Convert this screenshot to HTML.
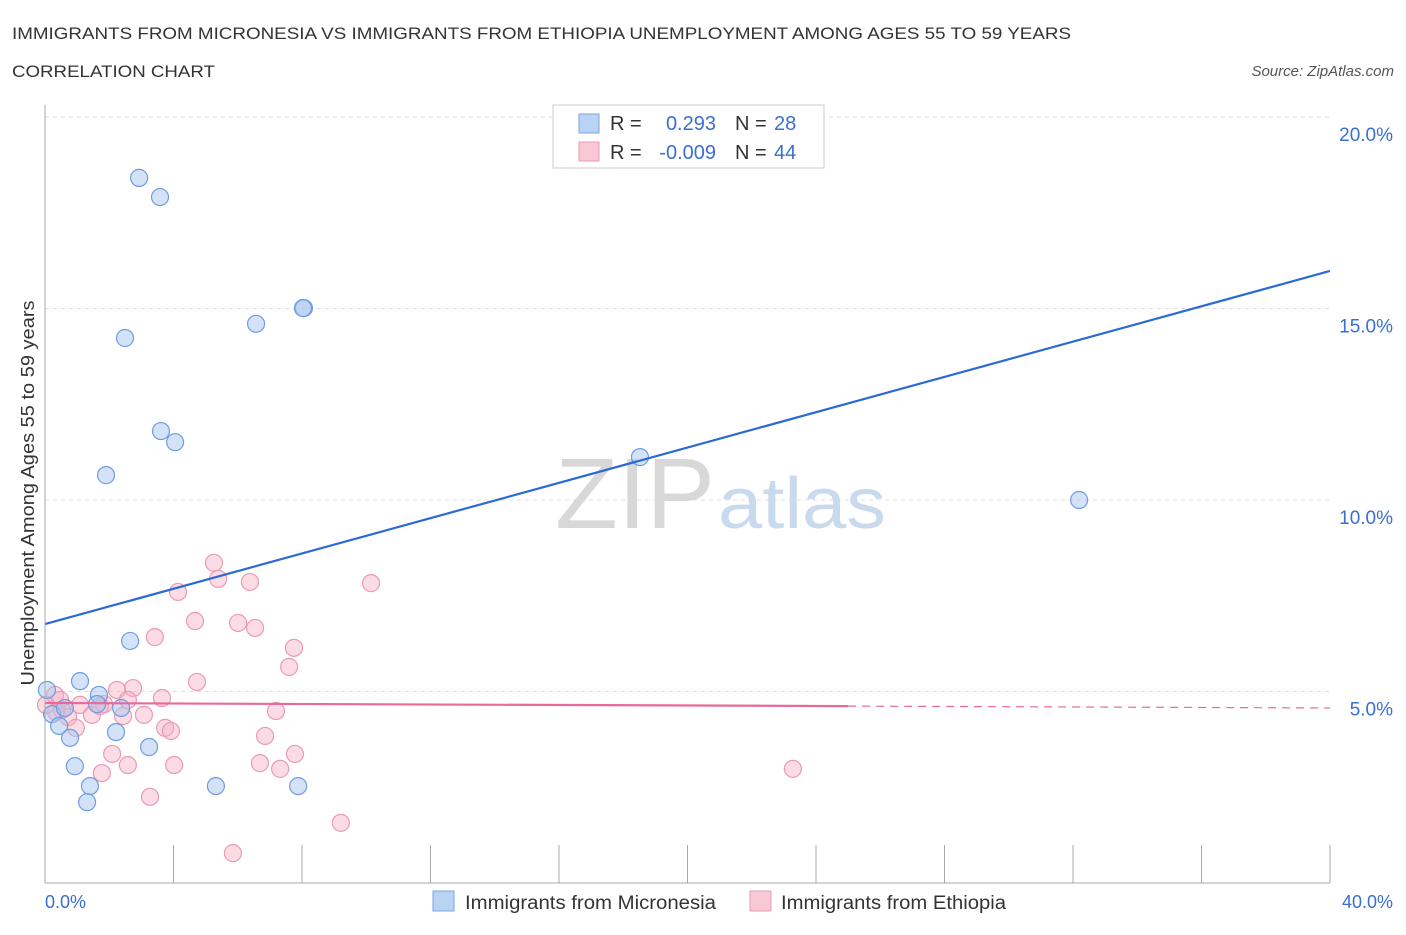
<!DOCTYPE html>
<html><head><meta charset="utf-8"><style>
body{margin:0;background:#fff;font-family:"Liberation Sans",sans-serif;}
svg text{font-family:"Liberation Sans",sans-serif;}
</style></head><body>
<svg width="1406" height="930" viewBox="0 0 1406 930">
<text x="12" y="39" font-size="17" fill="#333" textLength="1059" lengthAdjust="spacingAndGlyphs">IMMIGRANTS FROM MICRONESIA VS IMMIGRANTS FROM ETHIOPIA UNEMPLOYMENT AMONG AGES 55 TO 59 YEARS</text>
<text x="12" y="77" font-size="17" fill="#333" textLength="203" lengthAdjust="spacingAndGlyphs">CORRELATION CHART</text>
<text x="1394" y="76" font-size="15" fill="#555" font-style="italic" text-anchor="end">Source: ZipAtlas.com</text>
<g id="grid"></g>
<text x="555" y="528" font-size="100" fill="#d8d8d8" font-family="Liberation Serif" textLength="160" lengthAdjust="spacingAndGlyphs">ZIP</text>
<text x="718" y="528" font-size="72" fill="#c9d9ee" textLength="168" lengthAdjust="spacingAndGlyphs">atlas</text>
<g id="pts"></g>
<g id="lines"></g>
<line x1="45" y1="105" x2="45" y2="883" stroke="#aaa"/>
<line x1="45" y1="883" x2="1330" y2="883" stroke="#aaa"/>
<text x="34" y="493" font-size="18" fill="#333" text-anchor="middle" textLength="385" lengthAdjust="spacingAndGlyphs" transform="rotate(-90 34 493)">Unemployment Among Ages 55 to 59 years</text>
<text x="45" y="908" font-size="18" fill="#3a6fd0">0.0%</text>
<text x="1393" y="908" font-size="18" fill="#3a6fd0" text-anchor="end">40.0%</text>
<g>
<rect x="553" y="105" width="271" height="63" fill="#fff" stroke="#ccc"/>
<rect x="579" y="114" width="20" height="19" fill="#b8d3f4" stroke="#7aa6e0"/>
<rect x="579" y="142" width="20" height="19" fill="#f8c8d6" stroke="#eb9ab2"/>
<text x="610" y="130" font-size="20" fill="#333">R = </text><text x="716" y="130" font-size="20" fill="#3a6fd0" text-anchor="end">0.293</text>
<text x="735" y="130" font-size="20" fill="#333">N = </text><text x="774" y="130" font-size="20" fill="#3a6fd0">28</text>
<text x="610" y="159" font-size="20" fill="#333">R = </text><text x="716" y="159" font-size="20" fill="#3a6fd0" text-anchor="end">-0.009</text>
<text x="735" y="159" font-size="20" fill="#333">N = </text><text x="774" y="159" font-size="20" fill="#3a6fd0">44</text>
</g>
<g>
<rect x="433" y="891" width="21" height="20" fill="#b8d3f4" stroke="#7aa6e0"/>
<text x="465" y="909" font-size="19" fill="#333" textLength="251" lengthAdjust="spacingAndGlyphs">Immigrants from Micronesia</text>
<rect x="750" y="891" width="21" height="20" fill="#f8c8d6" stroke="#eb9ab2"/>
<text x="781" y="909" font-size="19" fill="#333" textLength="225" lengthAdjust="spacingAndGlyphs">Immigrants from Ethiopia</text>
</g>
</svg>
<script>
const yTicks=[5,10,15,20];
const xTicks=[0,4,8,12,16,20,24,28,32,36,40];
const blueX=[2.93,3.58,8.06,8.03,6.57,2.49,3.61,4.05,1.90,18.52,32.19,2.65,1.09,1.68,1.62,2.37,0.06,0.22,0.44,0.78,2.21,3.24,0.93,1.40,1.31,5.32,7.88,0.62];
const blueY=[18.41,17.91,15.01,15.01,14.60,14.23,11.80,11.51,10.65,11.12,10.00,6.32,5.27,4.91,4.67,4.57,5.04,4.41,4.10,3.79,3.94,3.55,3.05,2.53,2.11,2.53,2.53,4.57];
const pinkX=[5.26,4.14,5.39,6.38,10.15,4.67,3.42,6.01,6.54,7.75,7.60,4.73,2.74,2.24,3.64,0.31,1.09,1.84,0.53,0.72,1.46,2.43,3.08,7.19,0.96,3.74,3.92,6.85,2.09,7.78,2.58,4.02,6.69,7.32,1.77,3.27,9.21,5.85,23.28,0.34,1.71,0.03,0.47,2.58];
const pinkY=[8.36,7.60,7.94,7.86,7.83,6.84,6.42,6.79,6.66,6.14,5.64,5.25,5.09,5.04,4.83,4.91,4.65,4.67,4.52,4.33,4.39,4.36,4.39,4.49,4.05,4.05,3.97,3.84,3.37,3.37,3.08,3.08,3.13,2.98,2.87,2.25,1.57,0.78,2.98,4.47,4.62,4.65,4.78,4.78];
const blueTrend=[6.76,15.98];
const pinkTrend=[4.70,4.57];
const pinkSolidEnd=25;
const NS='http://www.w3.org/2000/svg';
const sx=v=>45+v/40*1285, sy=v=>883-v/20*766;
function mk(t,a,p){const e=document.createElementNS(NS,t);for(const k in a)e.setAttribute(k,a[k]);p.appendChild(e);return e;}
const g=document.getElementById('grid');
yTicks.forEach(t=>{
 const l=mk('line',{x1:45,x2:1330,y1:sy(t),y2:sy(t),stroke:'#ddd','stroke-dasharray':'4,4'},g);
 
 
 const tx=mk('text',{x:1393,y:sy(t)+24,'font-size':19,fill:'#3a6fd0','text-anchor':'end'},g);
 tx.textContent=t.toFixed(1)+'%';
 
 
});
xTicks.forEach(t=>{
 const l=mk('line',{x1:sx(t),x2:sx(t),y1:845,y2:883,stroke:'#aaa'},g);
 
 
});
const p=document.getElementById('pts');
pinkX.forEach((x,i)=>{
 const c=mk('circle',{cx:sx(x),cy:sy(pinkY[i]),r:8.5,fill:'rgba(246,178,198,0.45)',stroke:'#eb9ab2','stroke-width':1.2},p);
 
 
});
blueX.forEach((x,i)=>{
 const c=mk('circle',{cx:sx(x),cy:sy(blueY[i]),r:8.5,fill:'rgba(168,198,238,0.5)',stroke:'#6f9de0','stroke-width':1.2},p);
 
 
});
const L=document.getElementById('lines');
const b=mk('line',{x1:sx(0),y1:sy(blueTrend[0]),x2:sx(40),y2:sy(blueTrend[1]),stroke:'#2a6ad4','stroke-width':2.2},L);


const pm=pinkTrend[0]+(pinkTrend[1]-pinkTrend[0])*pinkSolidEnd/40;
const p1=mk('line',{x1:sx(0),y1:sy(pinkTrend[0]),x2:sx(pinkSolidEnd),y2:sy(pm),stroke:'#e8699a','stroke-width':2.2},L);


const p2=mk('line',{x1:sx(pinkSolidEnd),y1:sy(pm),x2:sx(40),y2:sy(pinkTrend[1]),stroke:'#e8699a','stroke-width':1.2,'stroke-dasharray':'8,6'},L);


</script>
</body></html>
